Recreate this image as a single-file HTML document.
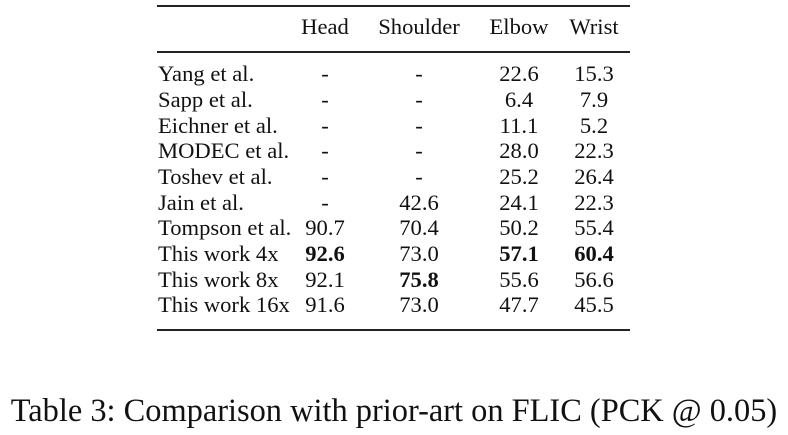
<!DOCTYPE html>
<html><head><style>
body{margin:0;width:788px;height:435px;background:#fff;position:relative;overflow:hidden;font-family:"Liberation Serif",serif;color:#111}
.l{position:absolute;left:157px;width:473px;background:#222}
.r{position:absolute;left:0;width:788px;height:26px;line-height:26px;font-size:22.6px}
.r span{position:absolute;white-space:nowrap}
.n{left:158px}
.c{transform:translateX(-50%)}
b{font-weight:bold}
</style></head><body>
<div class="l" style="top:5px;height:2px"></div>
<div class="l" style="top:51px;height:1.5px"></div>
<div class="l" style="top:329px;height:2px"></div>
<div class="r" style="top:14px"><span class="c" style="left:325px">Head</span><span class="c" style="left:419px">Shoulder</span><span class="c" style="left:519px">Elbow</span><span class="c" style="left:594px">Wrist</span></div>
<div class="r" style="top:61px"><span class="n">Yang et al.</span><span class="c" style="left:325px">-</span><span class="c" style="left:419px">-</span><span class="c" style="left:519px">22.6</span><span class="c" style="left:594px">15.3</span></div>
<div class="r" style="top:87px"><span class="n">Sapp et al.</span><span class="c" style="left:325px">-</span><span class="c" style="left:419px">-</span><span class="c" style="left:519px">6.4</span><span class="c" style="left:594px">7.9</span></div>
<div class="r" style="top:113px"><span class="n">Eichner et al.</span><span class="c" style="left:325px">-</span><span class="c" style="left:419px">-</span><span class="c" style="left:519px">11.1</span><span class="c" style="left:594px">5.2</span></div>
<div class="r" style="top:138px"><span class="n">MODEC et al.</span><span class="c" style="left:325px">-</span><span class="c" style="left:419px">-</span><span class="c" style="left:519px">28.0</span><span class="c" style="left:594px">22.3</span></div>
<div class="r" style="top:164px"><span class="n">Toshev et al.</span><span class="c" style="left:325px">-</span><span class="c" style="left:419px">-</span><span class="c" style="left:519px">25.2</span><span class="c" style="left:594px">26.4</span></div>
<div class="r" style="top:190px"><span class="n">Jain et al.</span><span class="c" style="left:325px">-</span><span class="c" style="left:419px">42.6</span><span class="c" style="left:519px">24.1</span><span class="c" style="left:594px">22.3</span></div>
<div class="r" style="top:215px"><span class="n">Tompson et al.</span><span class="c" style="left:325px">90.7</span><span class="c" style="left:419px">70.4</span><span class="c" style="left:519px">50.2</span><span class="c" style="left:594px">55.4</span></div>
<div class="r" style="top:241px"><span class="n">This work 4x</span><span class="c" style="left:325px"><b>92.6</b></span><span class="c" style="left:419px">73.0</span><span class="c" style="left:519px"><b>57.1</b></span><span class="c" style="left:594px"><b>60.4</b></span></div>
<div class="r" style="top:267px"><span class="n">This work 8x</span><span class="c" style="left:325px">92.1</span><span class="c" style="left:419px"><b>75.8</b></span><span class="c" style="left:519px">55.6</span><span class="c" style="left:594px">56.6</span></div>
<div class="r" style="top:292px"><span class="n">This work 16x</span><span class="c" style="left:325px">91.6</span><span class="c" style="left:419px">73.0</span><span class="c" style="left:519px">47.7</span><span class="c" style="left:594px">45.5</span></div>
<div style="position:absolute;left:0;width:788px;top:392px;text-align:center;font-size:32.4px;line-height:38px;white-space:nowrap">Table 3: Comparison with prior-art on FLIC (PCK @ 0.05)</div>
</body></html>
